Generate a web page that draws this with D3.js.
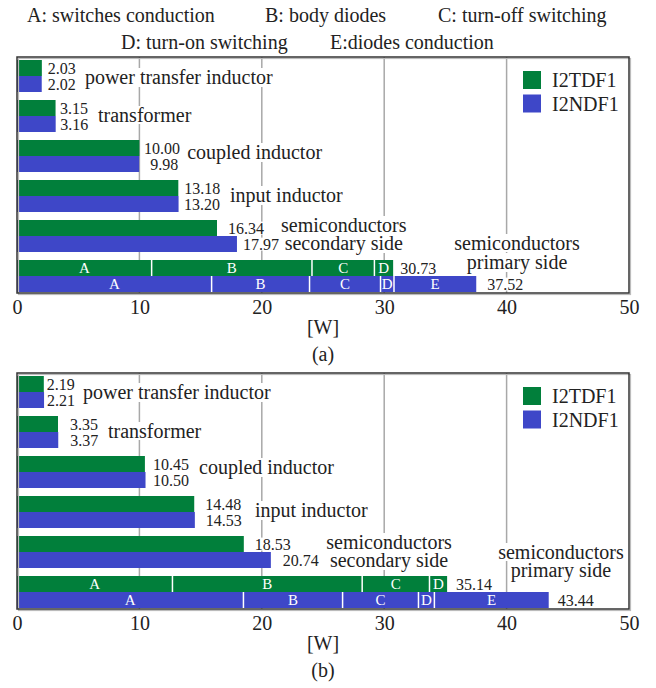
<!DOCTYPE html>
<html>
<head>
<meta charset="utf-8">
<script src="https://cdn.jsdelivr.net/npm/d3@7"></script>
<style>
  html, body { margin: 0; padding: 0; background: #fff; }
  svg { display: block; font-family: "Liberation Serif", "Times New Roman", serif; }
</style>
</head>
<body>
<svg id="chart" width="656" height="688" font-family="'Liberation Serif', 'Times New Roman', serif"></svg>
<script>
// Loss categories (rows, top to bottom)
const categories = [
  "power transfer inductor",
  "transformer",
  "coupled inductor",
  "input inductor",
  "semiconductors secondary side",
  "semiconductors primary side"
];
const seriesNames = ["I2TDF1", "I2NDF1"];

// Losses in W for the first five rows, panel (a)
const tdfA = [2.03, 3.15, 10.00, 13.18, 16.34];
const ndfA = [2.02, 3.16, 9.98, 13.20, 17.97];
// Panel (b)
const tdfB = [2.19, 3.35, 10.45, 14.48, 18.53];
const ndfB = [2.21, 3.37, 10.50, 14.53, 20.74];

// Primary-side semiconductor loss breakdown (A..E), W
const primParts = ["A", "B", "C", "D", "E"];
const primTdfA = [11.0, 13.1, 5.1, 1.53];
const primNdfA = [15.9, 8.0, 5.8, 1.1, 6.72];
const primTdfB = [12.7, 15.5, 5.5, 1.44];
const primNdfB = [18.5, 8.1, 6.2, 1.3, 9.34];

const xTicks = [0, 10, 20, 30, 40, 50];
const partLegend = [
  ["A: switches conduction", "B: body diodes", "C: turn-off switching"],
  ["D: turn-on switching", "E:diodes conduction"]
];
const captions = ["(a)", "(b)"];
const axisTitle = "[W]";

// ---- layout ----
const colors = { "I2TDF1": "#017f3b", "I2NDF1": "#3e47c8" };
const panelTops = [57, 373];
const plotH = 236;
const x = d3.scaleLinear().domain([0, 50]).range([17, 629]);

// label nudges (px right of bar end) and category label placement
const valueNudge = [
  { g: [6, 4.5, 4.6, 6, 11, 7], b: [6, 4.5, 11, 5.5, 6, 11] },
  { g: [3, 12, 8, 11, 11, 9], b: [3, 12, 7.5, 11, 12, 9] }
];
const nameLayout = [
  [ { x: 5.55, dy: [1] }, { x: 6.62, dy: [-1] }, { x: 13.9, dy: [-4] },
    { x: 17.4, dy: [-1] }, { x: 26.7, dy: [-11, 7], mid: true }, { x: 40.85, dy: [-33, -14], mid: true } ],
  [ { x: 5.39, dy: [0] }, { x: 7.43, dy: [-1] }, { x: 14.87, dy: [-5] },
    { x: 19.44, dy: [-2] }, { x: 30.4, dy: [-10, 8], mid: true }, { x: 44.44, dy: [-40, -22], mid: true } ]
];
const nameLines = [
  ["power transfer inductor"], ["transformer"], ["coupled inductor"], ["input inductor"],
  ["semiconductors", "secondary side"], ["semiconductors", "primary side"]
];

const svg = d3.select("#chart");
const fmt = d3.format(".2f");

// part legend at the top
const legendRows = [
  { y: 22, xs: [27, 265, 438] },
  { y: 49, xs: [121, 330] }
];
partLegend.forEach((row, r) => {
  svg.append("g").selectAll("text").data(row).join("text")
    .attr("x", (d, i) => legendRows[r].xs[i])
    .attr("y", legendRows[r].y)
    .attr("font-size", 20)
    .attr("fill", "#222")
    .text(d => d);
});

const panels = [
  { tdf: tdfA, ndf: ndfA, primG: primTdfA, primB: primNdfA },
  { tdf: tdfB, ndf: ndfB, primG: primTdfB, primB: primNdfB }
];

panels.forEach((p, pi) => {
  const T = panelTops[pi];
  const y = d3.scaleBand().domain(categories).range([T + 1, T + plotH + 1])
    .paddingInner(0.2).paddingOuter(0.05);
  const ys = d3.scaleBand().domain(seriesNames).range([0, y.bandwidth()]);

  const g = svg.append("g");
  const gridL = g.append("g");
  const bgL = g.append("g");
  const barL = g.append("g");
  const textL = g.append("g");

  // vertical gridlines
  gridL.selectAll("line").data(xTicks.slice(1, -1)).join("line")
    .attr("x1", d => x(d)).attr("x2", d => x(d))
    .attr("y1", T).attr("y2", T + plotH)
    .attr("stroke", "#a8a8a8").attr("stroke-width", 1.5);

  // simple bars
  const rows = categories.slice(0, 5).map((c, i) => ({ c, i, vals: [p.tdf[i], p.ndf[i]] }));
  rows.forEach(r => {
    seriesNames.forEach((s, si) => {
      const v = r.vals[si];
      barL.append("rect")
        .attr("x", x(0)).attr("y", y(r.c) + ys(s))
        .attr("width", x(v) - x(0)).attr("height", ys.bandwidth())
        .attr("fill", colors[s]);
      const nudge = si === 0 ? valueNudge[pi].g[r.i] : valueNudge[pi].b[r.i];
      textL.append("text").attr("class", "lbl")
        .attr("x", x(v) + nudge)
        .attr("y", y(r.c) + ys(s) + ys.bandwidth() / 2)
        .attr("dy", "0.35em")
        .attr("font-size", 16).attr("fill", "#222")
        .text(fmt(v));
    });
  });

  // stacked primary-side bars
  const primCat = categories[5];
  [p.primG, p.primB].forEach((parts, si) => {
    const s = seriesNames[si];
    const ends = Array.from(d3.cumsum(parts));
    const starts = [0, ...ends.slice(0, -1)];
    const y0 = y(primCat) + ys(s), h = ys.bandwidth();
    parts.forEach((v, k) => {
      barL.append("rect")
        .attr("x", x(starts[k])).attr("y", y0)
        .attr("width", x(ends[k]) - x(starts[k])).attr("height", h)
        .attr("fill", colors[s]);
    });
    parts.forEach((v, k) => {
      if (k > 0) {
        barL.append("line")
          .attr("x1", x(starts[k])).attr("x2", x(starts[k]))
          .attr("y1", y0).attr("y2", y0 + h)
          .attr("stroke", "#fff").attr("stroke-width", 1.5);
      }
      barL.append("text")
        .attr("x", (x(starts[k]) + x(ends[k])) / 2)
        .attr("y", y0 + h / 2).attr("dy", "0.36em")
        .attr("text-anchor", "middle")
        .attr("font-size", 15).attr("fill", "#fff")
        .text(primParts[k]);
    });
    const total = ends[ends.length - 1];
    const nudge = si === 0 ? valueNudge[pi].g[5] : valueNudge[pi].b[5];
    textL.append("text").attr("class", "lbl")
      .attr("x", x(total) + nudge)
      .attr("y", y0 + h / 2).attr("dy", "0.35em")
      .attr("font-size", 16).attr("fill", "#222")
      .text(fmt(total));
  });

  // category labels (two-line ones use tspans inside one text)
  categories.forEach((c, i) => {
    const L = nameLayout[pi][i];
    const cy = y(c) + y.bandwidth() / 2;
    const t = textL.append("text").attr("class", "lbl")
      .attr("text-anchor", L.mid ? "middle" : "start")
      .attr("font-size", 20).attr("fill", "#222");
    nameLines[i].forEach((line, li) => {
      t.append("tspan")
        .attr("x", x(L.x)).attr("y", cy + L.dy[li]).attr("dy", "0.35em")
        .text(line);
    });
  });

  // white boxes behind labels hide the gridlines
  textL.selectAll("text.lbl").each(function () {
    const spans = this.querySelectorAll("tspan");
    const nodes = spans.length ? Array.from(spans) : [this];
    nodes.forEach(n => {
      const b = n.getBBox();
      bgL.append("rect")
        .attr("x", b.x - 1).attr("y", b.y + 2)
        .attr("width", b.width + 2).attr("height", b.height - 4)
        .attr("fill", "#fff");
    });
  });

  // series legend
  const leg = g.append("g");
  seriesNames.forEach((s, si) => {
    const cy = T + 23 + si * 23.5;
    leg.append("rect").attr("x", 523).attr("y", cy - 9).attr("width", 18).attr("height", 18)
      .attr("fill", colors[s]);
    leg.append("text").attr("x", 552).attr("y", cy).attr("dy", "0.35em")
      .attr("font-size", 20).attr("fill", "#222").text(s);
  });

  // frame
  g.append("rect").attr("x", x(0) + 1.5).attr("y", T + 1.5)
    .attr("width", x(50) - x(0)).attr("height", plotH)
    .attr("fill", "none").attr("stroke", "#bbb").attr("stroke-width", 1.2);
  g.append("rect").attr("x", x(0)).attr("y", T)
    .attr("width", x(50) - x(0)).attr("height", plotH)
    .attr("fill", "none").attr("stroke", "#333").attr("stroke-width", 1.5);

  // x axis
  const ax = g.append("g").attr("transform", `translate(0,${T + plotH})`)
    .call(d3.axisBottom(x).tickValues(xTicks).tickSize(0).tickPadding(7).tickFormat(d3.format("d")));
  ax.attr("font-family", null);
  ax.select(".domain").remove();
  ax.selectAll("text").attr("font-size", 20).attr("fill", "#222");

  g.append("text").attr("x", x(25)).attr("y", T + plotH + 34).attr("dy", "0.35em")
    .attr("text-anchor", "middle").attr("font-size", 20).attr("fill", "#222").text(axisTitle);
  g.append("text").attr("x", x(25)).attr("y", T + plotH + 61).attr("dy", "0.35em")
    .attr("text-anchor", "middle").attr("font-size", 20).attr("fill", "#222").text(captions[pi]);
});
</script>
</body>
</html>
